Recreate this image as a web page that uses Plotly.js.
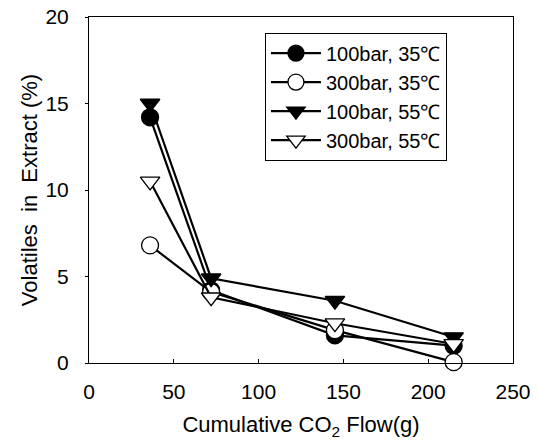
<!DOCTYPE html>
<html>
<head>
<meta charset="utf-8">
<script src="https://cdn.plot.ly/plotly-3.0.1.min.js"></script>
<style>html,body{margin:0;padding:0;background:#fff;}#chart{width:538px;height:446px;}</style>
</head>
<body>
<div id="chart"></div>
<script>
var flow = [36, 72, 145, 215];
var seriesNames = ["100bar, 35\u2103", "300bar, 35\u2103", "100bar, 55\u2103", "300bar, 55\u2103"];
var s100_35 = [14.2, 4.2, 1.6, 1.0];
var s300_35 = [6.8, 4.1, 1.9, 0.05];
var s100_55 = [15.0, 4.9, 3.6, 1.5];
var s300_55 = [10.5, 3.8, 2.3, 1.1];
var xTicks = [0, 50, 100, 150, 200, 250];
var yTicks = [0, 5, 10, 15, 20];

var font = "Liberation Sans, Arial, sans-serif";
function tr(name, y, symbol, fill) {
  return {
    x: flow, y: y, name: name, type: "scatter", mode: "lines+markers",
    line: {color: "#000", width: 2.2},
    marker: {symbol: symbol, size: 17, color: fill, line: {color: "#000", width: 1.3}},
    cliponaxis: false
  };
}
var data = [
  tr(seriesNames[0], s100_35, "circle", "#000"),
  tr(seriesNames[1], s300_35, "circle", "#fff"),
  tr(seriesNames[2], s100_55, "triangle-down", "#000"),
  tr(seriesNames[3], s300_55, "triangle-down", "#fff")
];

var layout = {
  width: 538, height: 446,
  margin: {l: 89, r: 25, t: 17, b: 83},
  paper_bgcolor: "#fff", plot_bgcolor: "#fff",
  font: {family: font, color: "#000", size: 20},
  showlegend: true,
  legend: {x: 0.415, y: 0.955, xanchor: "left", yanchor: "top",
           bordercolor: "#000", borderwidth: 1, bgcolor: "#fff",
           font: {family: font, size: 20, color: "#000"}, tracegroupgap: 0, itemwidth: 50},
  xaxis: {range: [0, 250], tickvals: xTicks, ticktext: xTicks.map(String),
          showgrid: false, zeroline: false, showline: true, linecolor: "#000", linewidth: 1,
          mirror: true, ticks: "inside", ticklen: 4, tickcolor: "#000",
          ticklabelstandoff: 10,
          tickfont: {size: 21, family: font},
          title: {text: "Cumulative CO<sub>2</sub> Flow(g)", font: {size: 22, family: font}, standoff: 14}},
  yaxis: {range: [0, 20], tickvals: yTicks, ticktext: yTicks.map(String),
          showgrid: false, zeroline: false, showline: true, linecolor: "#000", linewidth: 1,
          mirror: true, ticks: "outside", ticklen: 3, tickcolor: "#000",
          ticklabelstandoff: 12,
          tickfont: {size: 21, family: font},
          title: {text: "Volatiles  in  Extract (%)", font: {size: 22, family: font}, standoff: 1}}
};
Plotly.newPlot("chart", data, layout, {displayModeBar: false, staticPlot: true});
</script>
</body>
</html>
